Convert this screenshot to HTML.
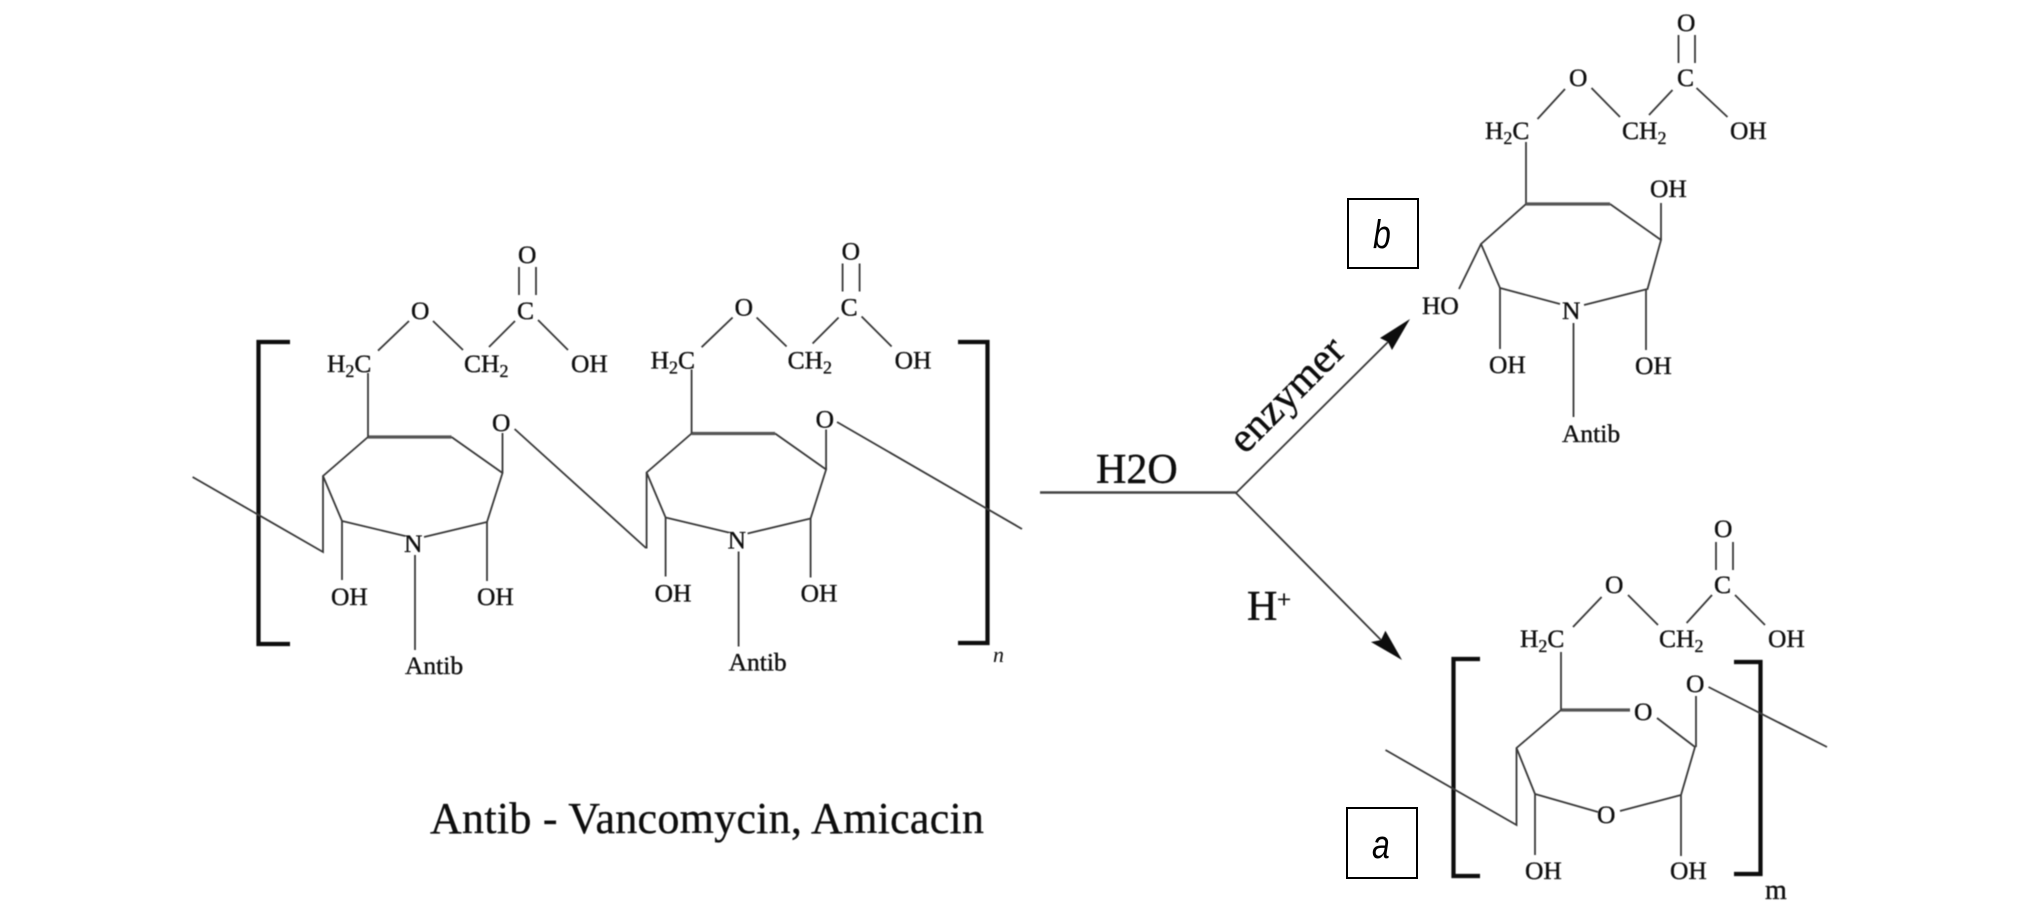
<!DOCTYPE html>
<html><head><meta charset="utf-8">
<style>
html,body{margin:0;padding:0;background:#fff;width:2020px;height:905px;overflow:hidden}
svg{display:block}
text{font-family:"Liberation Serif",serif;fill:#0a0a0a;font-size:25.5px;stroke:#0a0a0a;stroke-width:.35px}
.l{stroke:#383838;stroke-width:1.8;fill:none}
.t{stroke:#555;stroke-width:3.2;fill:none}
.b{stroke:#111;stroke-width:4.2;fill:none}
.big{font-size:42px;stroke-width:.4px}
.s{font-size:18px}
.box{stroke:#000;stroke-width:2;fill:#fff}
.lab{font-family:"Liberation Sans",sans-serif;font-style:italic;font-size:40px;fill:#000;stroke:none}
</style></head><body>
<svg width="2020" height="905" viewBox="0 0 2020 905" xmlns="http://www.w3.org/2000/svg">
<defs><filter id="f" x="-5%" y="-5%" width="110%" height="110%"><feGaussianBlur stdDeviation="0.5"/></filter></defs>
<rect width="2020" height="905" fill="#fff"/>
<g filter="url(#f)">
<!-- brackets main -->
<path class="b" d="M290 342H258.5V644H290"/>
<path class="b" d="M958 342H987.5V643H958"/>
<!-- monomer 1 -->
<g>
<path class="l" d="M192.6 477L323 552V476L368 437"/>
<path class="t" d="M368 437H451.5"/>
<path class="l" d="M451.5 437L502.5 473L487 522L424 537M405 536L342 521L323 476M502.5 473V433"/>
<path class="l" d="M368 437V373M378 350.7L409 321M433 321L463 350M489 347L515 321M538 320L568 350M519 267V295M536 267V295"/>
<path class="l" d="M342 521V580M487 522V581M415 555V650M514.6 429L646 548"/>
<text x="327" y="372">H<tspan class="s" dy="5">2</tspan><tspan dy="-5">C</tspan></text>
<text x="464" y="372">CH<tspan class="s" dy="5">2</tspan></text>
<text x="571" y="372">OH</text>
<text x="411" y="319">O</text>
<text x="517" y="319">C</text>
<text x="518" y="263">O</text>
<text x="492" y="431">O</text>
<text x="404" y="552">N</text>
<text x="331" y="605">OH</text>
<text x="477" y="605">OH</text>
<text x="405" y="674">Antib</text>
</g>
<!-- monomer 2 -->
<g transform="translate(323.6,-3.5)">
<path class="l" d="M323 552V476L368 437"/>
<path class="t" d="M368 437H451.5"/>
<path class="l" d="M451.5 437L502.5 473L487 522L424 537M405 536L342 521L323 476M502.5 473V433"/>
<path class="l" d="M368 437V373M378 350.7L409 321M433 321L463 350M489 347L515 321M538 320L568 350M519 267V295M536 267V295"/>
<path class="l" d="M342 521V580M487 522V581M415 555V650M513.4 425.500L698.400 532.500"/>
<text x="327" y="372">H<tspan class="s" dy="5">2</tspan><tspan dy="-5">C</tspan></text>
<text x="464" y="372">CH<tspan class="s" dy="5">2</tspan></text>
<text x="571" y="372">OH</text>
<text x="411" y="319">O</text>
<text x="517" y="319">C</text>
<text x="518" y="263">O</text>
<text x="492" y="431">O</text>
<text x="404" y="552">N</text>
<text x="331" y="605">OH</text>
<text x="477" y="605">OH</text>
<text x="405" y="674">Antib</text>
</g>
<text x="993" y="662" style="font-size:22px;font-style:italic;stroke:none">n</text>
<!-- reaction -->
<path d="M1040 492.500H1236" stroke="#444" stroke-width="2.400" fill="none"/>
<path class="l" d="M1236 493L1388 342M1236 493L1381 640"/>
<path d="M1410 319L1380 338L1388 342L1392 350Z" fill="#111"/>
<path d="M1402 660L1385.400 630.700L1381 640L1371 642Z" fill="#111"/>
<text class="big" x="1096" y="483">H2O</text>
<text class="big" x="0" y="0" transform="translate(1245,455) rotate(-45)">enzymer</text>
<text class="big" x="1247" y="620">H</text>
<text x="1277" y="608" style="font-size:25px">+</text>
<text x="430" y="833" style="font-size:44px;stroke-width:.3px" textLength="554">Antib - Vancomycin, Amicacin</text>
<!-- product b -->
<path class="l" d="M1526 142V204L1481 244L1500 288L1560 304M1584 305L1647.500 289L1661 240L1610 204"/>
<path class="t" d="M1526 204H1610"/>
<path class="l" d="M1661 240V203M1481 244L1459 289M1500 288V349M1646 289V350M1573.500 323V417"/>
<path class="l" d="M1537.500 119L1565 89M1591.500 88L1620 117M1649 115L1672.500 90M1696.500 88L1727.500 117M1678.500 35V63M1695 35V63"/>
<text x="1485" y="139">H<tspan class="s" dy="5">2</tspan><tspan dy="-5">C</tspan></text>
<text x="1622" y="139">CH<tspan class="s" dy="5">2</tspan></text>
<text x="1730" y="139">OH</text>
<text x="1569" y="86">O</text>
<text x="1677" y="86">C</text>
<text x="1677" y="31">O</text>
<text x="1650" y="197">OH</text>
<text x="1422" y="314">HO</text>
<text x="1562" y="319">N</text>
<text x="1489" y="373">OH</text>
<text x="1635" y="374">OH</text>
<text x="1562" y="442">Antib</text>
<!-- product a -->
<path class="b" d="M1480 659H1453.500V876H1480"/>
<path class="b" d="M1734 662H1760.500V874H1734"/>
<path class="l" d="M1385.500 750L1516.500 825V748L1561 710"/>
<path class="t" d="M1561 710H1630"/>
<path class="l" d="M1516.500 748L1535 794L1598 812M1620 811L1681 795L1695 747L1657 718M1696 696V747M1708.500 687L1827 747M1561 652V710M1535 794V855M1681 795V856"/>
<path class="l" d="M1573 627L1601.600 597M1628 595L1658 625M1686.600 623L1712 595M1735 595L1765 625M1716 542V570M1733 542V570"/>
<text x="1520" y="647">H<tspan class="s" dy="5">2</tspan><tspan dy="-5">C</tspan></text>
<text x="1659" y="647">CH<tspan class="s" dy="5">2</tspan></text>
<text x="1768" y="647">OH</text>
<text x="1605" y="593">O</text>
<text x="1714" y="593">C</text>
<text x="1714" y="537">O</text>
<text x="1686" y="692">O</text>
<text x="1634" y="720">O</text>
<text x="1597" y="823">O</text>
<text x="1525" y="879">OH</text>
<text x="1670" y="879">OH</text>
<text x="1765" y="899" style="font-size:28px">m</text>
</g>
<!-- boxes -->
<rect class="box" x="1348" y="199" width="70" height="69"/>
<text class="lab" x="0" y="0" transform="translate(1373,248) scale(.8,1)">b</text>
<rect class="box" x="1347" y="808" width="70" height="70"/>
<text class="lab" x="0" y="0" transform="translate(1372,858) scale(.8,1)">a</text>
</svg>
</body></html>
